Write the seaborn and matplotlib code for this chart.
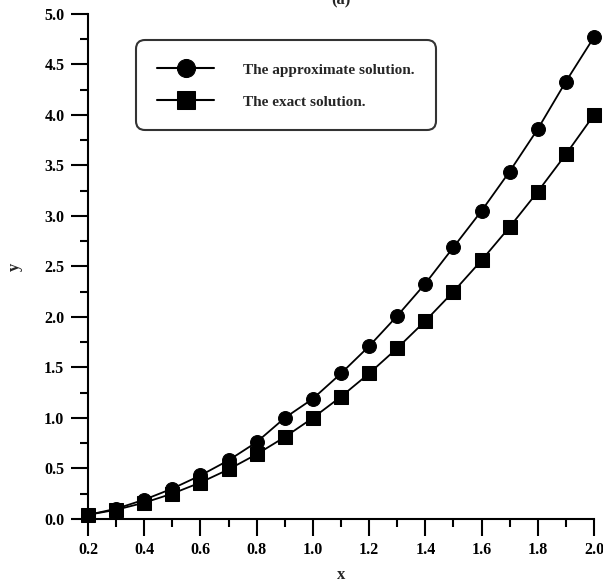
import matplotlib
matplotlib.use("Agg")
import matplotlib.pyplot as plt
import seaborn as sns
import pandas as pd
from matplotlib.ticker import MultipleLocator

x_vals = [0.2, 0.3, 0.4, 0.5, 0.6, 0.7, 0.8, 0.9, 1.0, 1.1, 1.2, 1.3, 1.4, 1.5, 1.6, 1.7, 1.8, 1.9, 2.0]
approx = [0.04, 0.10, 0.19, 0.30, 0.43, 0.58, 0.76, 1.00, 1.19, 1.44, 1.71, 2.01, 2.33, 2.69, 3.05, 3.44, 3.86, 4.33, 4.77]
exact = [0.04, 0.09, 0.16, 0.25, 0.36, 0.49, 0.64, 0.81, 1.00, 1.21, 1.44, 1.69, 1.96, 2.25, 2.56, 2.89, 3.24, 3.61, 4.00]
series_names = ["The approximate solution.", "The exact solution."]

df = pd.DataFrame({
    "x": x_vals * 2,
    "y": approx + exact,
    "series": [series_names[0]] * len(x_vals) + [series_names[1]] * len(x_vals),
})

sns.set_style("ticks")
plt.rcParams["font.family"] = ["Liberation Serif", "DejaVu Serif"]
plt.rcParams["font.weight"] = "bold"

fig = plt.figure(figsize=(6.03, 5.83), dpi=100)
ax = fig.add_axes([0.146, 0.110, 0.839, 0.866])

sns.lineplot(data=df, x="x", y="y", hue="series", style="series",
             palette={series_names[0]: "black", series_names[1]: "black"},
             markers={series_names[0]: "o", series_names[1]: "s"},
             dashes=False, markersize=10, markeredgecolor="black",
             linewidth=1.3, ax=ax, clip_on=False, zorder=5)

ax.set_xlim(0.2, 2.0)
ax.set_ylim(0, 5.0)
ax.xaxis.set_major_locator(MultipleLocator(0.2))
ax.xaxis.set_minor_locator(MultipleLocator(0.1))
ax.yaxis.set_major_locator(MultipleLocator(0.5))
ax.yaxis.set_minor_locator(MultipleLocator(0.25))
ax.xaxis.set_major_formatter(plt.FormatStrFormatter("%.1f"))
ax.yaxis.set_major_formatter(plt.FormatStrFormatter("%.1f"))

for s in ["top", "right"]:
    ax.spines[s].set_visible(False)
for s in ["left", "bottom"]:
    ax.spines[s].set_linewidth(1.5)
    ax.spines[s].set_color("black")

ax.tick_params(which="major", direction="out", length=12, width=1.5, labelsize=11.5, pad=5, colors="black")
ax.tick_params(which="minor", direction="out", length=6, width=1.5, colors="black")
for lbl in ax.get_xticklabels() + ax.get_yticklabels():
    lbl.set_fontweight("bold")

ax.set_xlabel("x", fontsize=12, fontweight="bold", labelpad=6)
ax.set_ylabel("y", fontsize=12, fontweight="bold", labelpad=15)

leg = ax.legend(loc="upper left", bbox_to_anchor=(0.0949, 0.9485), frameon=True,
                fancybox=True, fontsize=11, handlelength=3.7, handleheight=1.2,
                borderpad=1.4, labelspacing=1.03, handletextpad=1.9, borderaxespad=0)
frame = leg.get_frame()
frame.set_edgecolor("black")
frame.set_linewidth(1.5)
frame.set_boxstyle("round", pad=0, rounding_size=0.6)
for t in leg.get_texts():
    t.set_fontweight("bold")
for h in leg.legend_handles:
    h.set_markersize(13)
    h.set_linewidth(1.5)

fig.text(0.565, 1.0, "(a)", ha="center", va="center", fontsize=12, fontweight="bold")

fig.savefig("out.png", dpi=100)
